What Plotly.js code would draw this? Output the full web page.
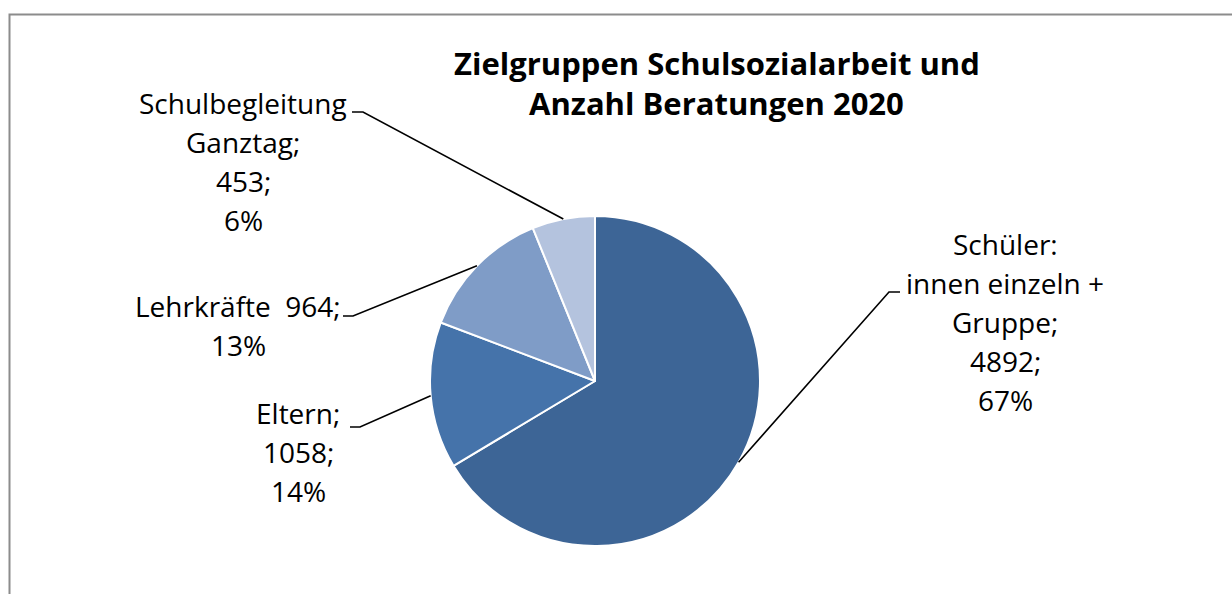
<!DOCTYPE html>
<html>
<head>
<meta charset="utf-8">
<script src="https://cdn.plot.ly/plotly-3.0.1.min.js"></script>
<style>html,body{margin:0;padding:0;background:#fff;}#chart{width:1232px;height:594px;}</style>
</head>
<body>
<div id="chart"></div>
<script>
// ---- data ----
const categories = ["Schüler: innen einzeln + Gruppe", "Eltern", "Lehrkräfte", "Schulbegleitung Ganztag"];
const values = [4892, 1058, 964, 453];
const percentLabels = ["67%", "14%", "13%", "6%"];
const labelLines = [
  ["Schüler:", "innen einzeln +", "Gruppe;", "4892;", "67%"],
  ["Eltern;", "1058;", "14%"],
  ["Lehrkräfte  964;", "13%"],
  ["Schulbegleitung", "Ganztag;", "453;", "6%"]
];
const colors = ["#3d6596", "#4573aa", "#7f9cc7", "#b4c3de"];
const titleLines = ["Zielgruppen Schulsozialarbeit und", "Anzahl Beratungen 2020"];

// ---- layout geometry (pixels) ----
const W = 1232, H = 594;
const cx = 595, cy = 381, R = 165;
const px = x => x / W;
const py = y => 1 - y / H;

const FONT = "'Open Sans', Lato, sans-serif";
const annotations = [];
function addBlock(lines, xc, yFirst, spacing, size, bold) {
  lines.forEach((t, i) => {
    annotations.push({
      xref: "paper", yref: "paper", x: px(xc), y: py(yFirst + i * spacing),
      xanchor: "center", yanchor: "middle", showarrow: false,
      text: bold ? "<b>" + t + "</b>" : t,
      font: {family: FONT, size: size, color: "#000"}
    });
  });
}
addBlock(titleLines, 717, 63, 40, 31, true);
// label blocks: [centerX, firstLineY]
const labelPos = [[1005, 244], [298, 413], [238, 306], [243, 103]];
labelLines.forEach((lines, i) => addBlock(lines, labelPos[i][0], labelPos[i][1], 39, 28, false));

// leader lines: elbow point + horizontal stub, pie-edge end computed from data
const elbows = [[889, 292, 900], [360, 427, 350], [353, 316, 343], [363, 112, 352]];
const total = values.reduce((a, b) => a + b, 0);
const shapes = [];
let cum = 0;
values.forEach((v, i) => {
  const mid = (cum + v / 2) / total * 2 * Math.PI;
  cum += v;
  const ex = cx + R * Math.sin(mid), ey = cy - R * Math.cos(mid);
  const [bx, by, sx] = elbows[i];
  shapes.push({
    type: "path", xref: "paper", yref: "paper",
    path: `M ${px(ex)} ${py(ey)} L ${px(bx)} ${py(by)} L ${px(sx)} ${py(by)}`,
    line: {color: "#000", width: 1.6}
  });
});
// chart frame
shapes.push({type: "rect", xref: "paper", yref: "paper", x0: px(9.5), y0: py(14.5), x1: px(1300), y1: py(700),
  line: {color: "#8c8c8c", width: 2}, fillcolor: "rgba(0,0,0,0)", layer: "below"});

const data = [{
  type: "pie",
  labels: categories,
  values: values,
  sort: false,
  direction: "clockwise",
  rotation: 0,
  textinfo: "none",
  hoverinfo: "label+value",
  marker: {colors: colors, line: {color: "#ffffff", width: 2}},
  domain: {x: [px(cx - R), px(cx + R)], y: [py(cy + R), py(cy - R)]}
}];

const layout = {
  width: W, height: H,
  margin: {l: 0, r: 0, t: 0, b: 0},
  paper_bgcolor: "#ffffff",
  showlegend: false,
  annotations: annotations,
  shapes: shapes
};
Plotly.newPlot("chart", data, layout, {displayModeBar: false, staticPlot: true});
</script>
</body>
</html>
